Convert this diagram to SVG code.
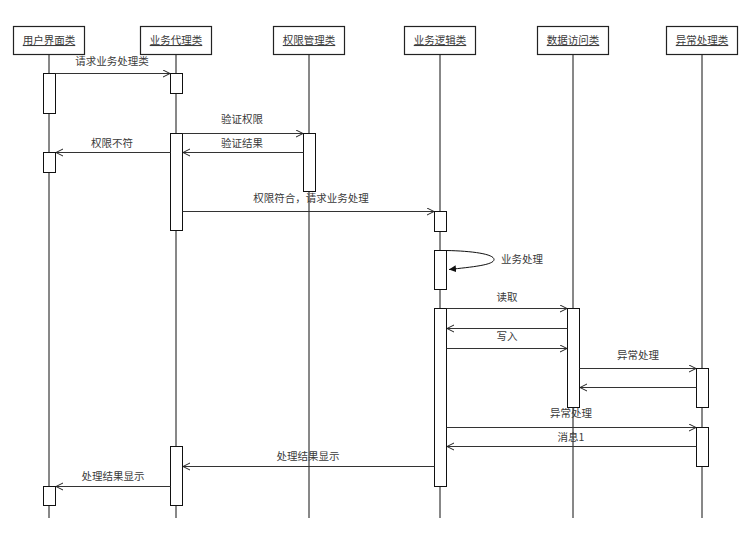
<svg xmlns="http://www.w3.org/2000/svg" width="754" height="541" viewBox="0 0 754 541">
<defs>
<marker id="open" markerWidth="10" markerHeight="10" refX="8" refY="4" orient="auto" markerUnits="userSpaceOnUse">
<path d="M1,0.5 L8,4 L1,7.5" fill="none" stroke="#222" stroke-width="1"/>
</marker>
<marker id="fill" markerWidth="10" markerHeight="10" refX="7" refY="3.5" orient="auto" markerUnits="userSpaceOnUse">
<path d="M0,0 L7,3.5 L0,7 Z" fill="#111"/>
</marker>
<style>
.hdr{fill:#fff;stroke:#222;stroke-width:1.2}
.life{stroke:#111;stroke-width:1;fill:none}
.act{fill:#fff;stroke:#111;stroke-width:1}
.msg{stroke:#333;stroke-width:1;fill:none;marker-end:url(#open)}
.t{font-family:"Noto Sans CJK SC","Liberation Sans",sans-serif;font-size:10.5px;fill:#3a3a3a;text-anchor:middle}
.h{text-decoration:underline}
</style>
</defs>
<rect width="754" height="541" fill="#fff"/>
<g id="lifelines">
<line class="life" x1="49" y1="54" x2="49" y2="518"/>
<line class="life" x1="176" y1="54" x2="176" y2="518"/>
<line class="life" x1="309" y1="54" x2="309" y2="518"/>
<line class="life" x1="440" y1="54" x2="440" y2="518"/>
<line class="life" x1="573" y1="54" x2="573" y2="518"/>
<line class="life" x1="702" y1="54" x2="702" y2="518"/>
</g>
<g id="n_ui">
<rect class="hdr" x="13.5" y="26.5" width="71" height="28"/>
<text class="t h" x="49" y="44">用户界面类</text>
<rect class="act" x="43.5" y="73.5" width="12" height="40"/>
<rect class="act" x="43.5" y="152.5" width="12" height="20"/>
<rect class="act" x="43.5" y="486.5" width="12" height="19"/>
</g>
<g id="n_proxy">
<rect class="hdr" x="140.5" y="26.5" width="71" height="28"/>
<text class="t h" x="176" y="44">业务代理类</text>
<rect class="act" x="170.5" y="73.5" width="12" height="20"/>
<rect class="act" x="170.5" y="133.5" width="12" height="97"/>
<rect class="act" x="170.5" y="446.5" width="12" height="59"/>
</g>
<g id="n_auth">
<rect class="hdr" x="273.5" y="26.5" width="71" height="28"/>
<text class="t h" x="309" y="44">权限管理类</text>
<rect class="act" x="303.5" y="133.5" width="12" height="58"/>
</g>
<g id="n_logic">
<rect class="hdr" x="404.5" y="26.5" width="71" height="28"/>
<text class="t h" x="440" y="44">业务逻辑类</text>
<rect class="act" x="434.5" y="211.5" width="12" height="20"/>
<rect class="act" x="434.5" y="250.5" width="12" height="39"/>
<rect class="act" x="434.5" y="308.5" width="12" height="178"/>
</g>
<g id="n_data">
<rect class="hdr" x="537.5" y="26.5" width="71" height="28"/>
<text class="t h" x="573" y="44">数据访问类</text>
<rect class="act" x="567.5" y="308.5" width="12" height="99"/>
</g>
<g id="n_exc">
<rect class="hdr" x="666.5" y="26.5" width="71" height="28"/>
<text class="t h" x="702" y="44">异常处理类</text>
<rect class="act" x="696.5" y="368.5" width="12" height="39"/>
<rect class="act" x="696.5" y="427.5" width="12" height="39"/>
</g>
<g id="connectors">
<line class="msg" x1="55.5" y1="73.5" x2="170" y2="73.5"/>
<line class="msg" x1="182.5" y1="133.5" x2="303" y2="133.5"/>
<line class="msg" x1="303.5" y1="152.5" x2="183" y2="152.5"/>
<line class="msg" x1="170.5" y1="152.5" x2="56" y2="152.5"/>
<line class="msg" x1="182.5" y1="211.5" x2="434" y2="211.5"/>
<path d="M446.5,250.5 C472,251 494,254 494,259.5 C494,265 472,267 449,269.5" fill="none" stroke="#111" stroke-width="1" marker-end="url(#fill)"/>
<line class="msg" x1="446.5" y1="308.5" x2="567" y2="308.5"/>
<line class="msg" x1="567.5" y1="328.5" x2="447" y2="328.5"/>
<line class="msg" x1="446.5" y1="348.5" x2="567" y2="348.5"/>
<line class="msg" x1="579.5" y1="368.5" x2="696" y2="368.5"/>
<line class="msg" x1="696.5" y1="387.5" x2="580" y2="387.5"/>
<line class="msg" x1="446.5" y1="427.5" x2="696" y2="427.5"/>
<line class="msg" x1="696.5" y1="446.5" x2="447" y2="446.5"/>
<line class="msg" x1="434.5" y1="466.5" x2="183" y2="466.5"/>
<line class="msg" x1="170.5" y1="486.5" x2="56" y2="486.5"/>
</g>
<g id="labels">
<text class="t" x="112" y="65">请求业务处理类</text>
<text class="t" x="242" y="123">验证权限</text>
<text class="t" x="242" y="147">验证结果</text>
<text class="t" x="112" y="147">权限不符</text>
<text class="t" x="311" y="202">权限符合，请求业务处理</text>
<text class="t" x="522" y="263">业务处理</text>
<text class="t" x="507" y="301">读取</text>
<text class="t" x="507" y="340">写入</text>
<text class="t" x="638" y="359">异常处理</text>
<text class="t" x="571" y="417">异常处理</text>
<text class="t" x="571" y="441">消息1</text>
<text class="t" x="308" y="460">处理结果显示</text>
<text class="t" x="113" y="480">处理结果显示</text>
</g>
</svg>
